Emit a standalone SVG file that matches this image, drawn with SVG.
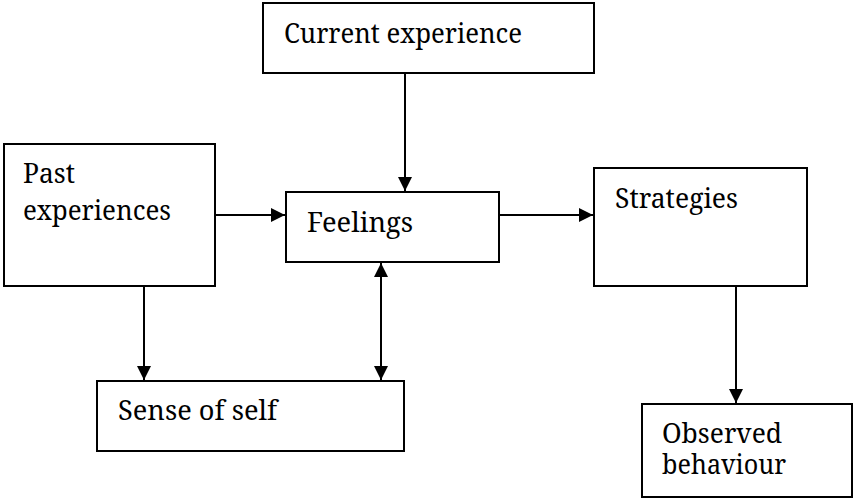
<svg xmlns="http://www.w3.org/2000/svg" width="854" height="499" viewBox="0 0 854 499">
  <style>
    .box { fill: #ffffff; stroke: #000000; stroke-width: 2; }
    .lbl { font-family: 'Noto Serif', 'DejaVu Serif', serif; font-size: 28px; fill: #000000; }
    .conn { stroke: #000000; stroke-width: 2; fill: none; }
  </style>
  <defs>
    <marker id="arrow" viewBox="0 0 14 14" refX="14" refY="7" markerWidth="14" markerHeight="14" markerUnits="userSpaceOnUse" orient="auto-start-reverse">
      <path d="M0,0 L14,7 L0,14 Z" fill="#000000"/>
    </marker>
  </defs>
  <rect width="854" height="499" fill="#ffffff"/>

  <g id="current-experience">
    <rect class="box" x="263" y="3" width="331" height="70"/>
    <text class="lbl" x="284" y="43" textLength="238" lengthAdjust="spacingAndGlyphs">Current experience</text>
  </g>

  <g id="past-experiences">
    <rect class="box" x="4" y="144" width="211" height="142"/>
    <text class="lbl"><tspan x="23" y="183" textLength="52" lengthAdjust="spacingAndGlyphs">Past</tspan><tspan x="23" y="220" textLength="148" lengthAdjust="spacingAndGlyphs">experiences</tspan></text>
  </g>

  <g id="feelings">
    <rect class="box" x="286" y="192" width="213" height="70"/>
    <text class="lbl" x="307" y="232" textLength="106" lengthAdjust="spacingAndGlyphs">Feelings</text>
  </g>

  <g id="strategies">
    <rect class="box" x="594" y="168" width="213" height="118"/>
    <text class="lbl" x="615" y="208" textLength="123" lengthAdjust="spacingAndGlyphs">Strategies</text>
  </g>

  <g id="sense-of-self">
    <rect class="box" x="97" y="381" width="307" height="70"/>
    <text class="lbl" x="118" y="420" textLength="159" lengthAdjust="spacingAndGlyphs">Sense of self</text>
  </g>

  <g id="observed-behaviour">
    <rect class="box" x="642" y="404" width="210" height="93"/>
    <text class="lbl"><tspan x="662" y="443" textLength="120" lengthAdjust="spacingAndGlyphs">Observed</tspan><tspan x="662" y="474" textLength="124" lengthAdjust="spacingAndGlyphs">behaviour</tspan></text>
  </g>

  <g id="connectors">
    <line class="conn" x1="405" y1="73" x2="405" y2="191" marker-end="url(#arrow)"/>
    <line class="conn" x1="215" y1="215" x2="285" y2="215" marker-end="url(#arrow)"/>
    <line class="conn" x1="499" y1="215" x2="593" y2="215" marker-end="url(#arrow)"/>
    <line class="conn" x1="144" y1="286" x2="144" y2="380" marker-end="url(#arrow)"/>
    <line class="conn" x1="381" y1="263" x2="381" y2="380" marker-start="url(#arrow)" marker-end="url(#arrow)"/>
    <line class="conn" x1="736" y1="286" x2="736" y2="403" marker-end="url(#arrow)"/>
  </g>
</svg>
